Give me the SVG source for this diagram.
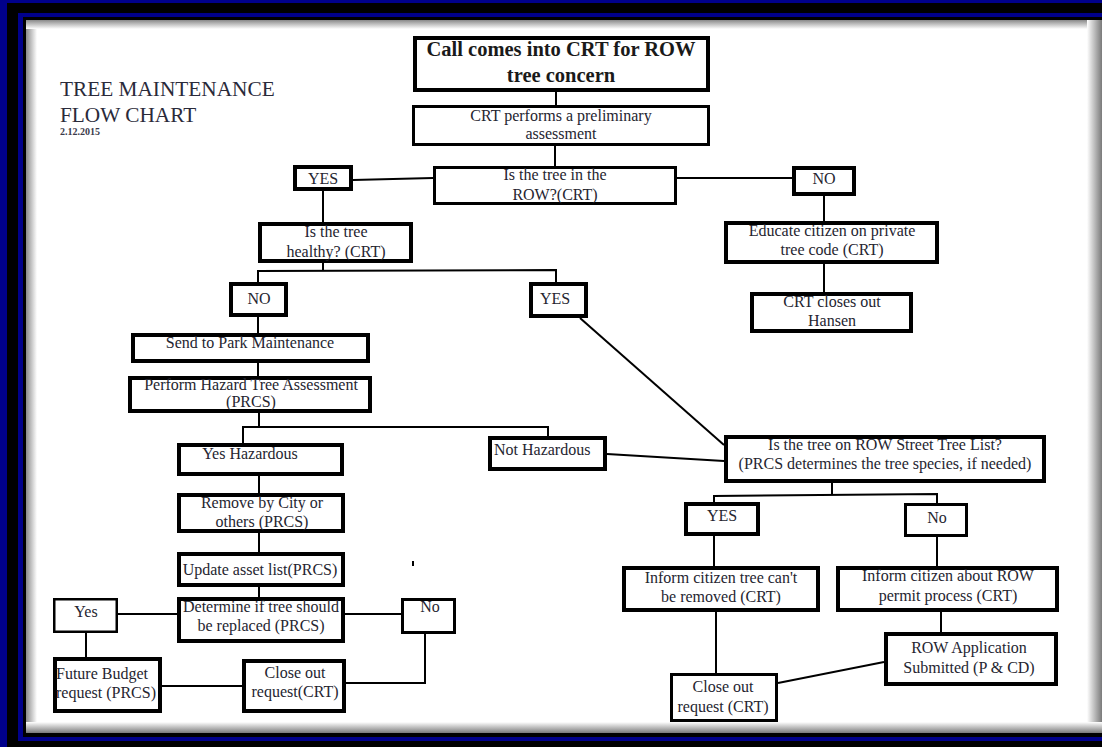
<svg xmlns="http://www.w3.org/2000/svg" width="1102" height="747" viewBox="0 0 1102 747">
<defs>
<linearGradient id="shL" x1="0" y1="0" x2="1" y2="0"><stop offset="0" stop-color="#8a8a8a"/><stop offset="1" stop-color="#fff"/></linearGradient>
<linearGradient id="shT" x1="0" y1="0" x2="0" y2="1"><stop offset="0" stop-color="#8a8a8a"/><stop offset="1" stop-color="#fff"/></linearGradient>
<linearGradient id="shR" x1="0" y1="0" x2="1" y2="0"><stop offset="0" stop-color="#fff"/><stop offset="1" stop-color="#7a7a7a"/></linearGradient>
<linearGradient id="shB" x1="0" y1="0" x2="0" y2="1"><stop offset="0" stop-color="#fff"/><stop offset="1" stop-color="#7a7a7a"/></linearGradient>
<style>
.b{fill:#fff;stroke:#000;stroke-width:4}
.m{fill:#fff;stroke:#000;stroke-width:3}
.s{fill:#fff;stroke:#000;stroke-width:2.5}
.t{font-family:"Liberation Serif","Times New Roman",serif;font-size:16px;fill:#252530;text-anchor:middle}
.tl{font-family:"Liberation Serif","Times New Roman",serif;font-size:16px;fill:#252530}
.tb{font-family:"Liberation Serif","Times New Roman",serif;font-size:20.5px;font-weight:bold;fill:#1a1a1a;text-anchor:middle}
.ttl{font-family:"Liberation Serif","Times New Roman",serif;font-size:21.3px;fill:#2a2a3a}
#connectors line,#connectors polyline{stroke:#000;stroke-width:2;fill:none}
</style>
</defs>
<g id="frame">
<rect x="0" y="0" width="1102" height="747" fill="#00008b"/>
<rect x="7" y="3" width="1095" height="744" fill="#000"/>
<rect x="18" y="13" width="1084" height="728" fill="#00008b"/>
<rect x="23" y="17" width="1079" height="720" fill="#000"/>
<rect x="26" y="20" width="1076" height="713" fill="#fff"/>
<rect x="26" y="20" width="11" height="713" fill="url(#shL)"/>
<rect x="26" y="20" width="1076" height="9" fill="url(#shT)"/>
<rect x="1087" y="20" width="15" height="713" fill="url(#shR)"/>
<rect x="26" y="722" width="1076" height="11" fill="url(#shB)"/>
</g>
<g id="title">
<text class="ttl" x="60" y="96">TREE MAINTENANCE</text>
<text class="ttl" x="60" y="122">FLOW CHART</text>
<text x="60" y="135" font-family="Liberation Serif, serif" font-size="10" font-weight="bold" fill="#3a3a4a">2.12.2015</text>
</g>
<g id="connectors">
<line x1="556" y1="92" x2="556" y2="105"/>
<line x1="555" y1="146" x2="555" y2="166"/>
<line x1="353" y1="180" x2="433" y2="178"/>
<line x1="677" y1="178" x2="792" y2="178"/>
<line x1="824" y1="196" x2="824" y2="221"/>
<line x1="824" y1="264" x2="824" y2="292"/>
<line x1="323" y1="191" x2="323" y2="222"/>
<line x1="323" y1="263" x2="323" y2="271"/>
<polyline points="258,282 258,271 556,270 556,282"/>
<line x1="258" y1="317" x2="258" y2="333"/>
<line x1="258" y1="363" x2="258" y2="376"/>
<line x1="259" y1="413" x2="259" y2="427"/>
<polyline points="243,443 243,427 548,427 548,436"/>
<line x1="259" y1="476" x2="259" y2="493"/>
<line x1="259" y1="533" x2="259" y2="552"/>
<line x1="259" y1="587" x2="259" y2="597"/>
<line x1="177" y1="614" x2="118" y2="614"/>
<line x1="345" y1="614" x2="401" y2="614"/>
<line x1="86" y1="633" x2="86" y2="657"/>
<line x1="162" y1="686" x2="242" y2="686"/>
<polyline points="346,683 425,683 425,634"/>
<line x1="580" y1="318" x2="724" y2="445"/>
<line x1="607" y1="454" x2="724" y2="461"/>
<line x1="832" y1="483" x2="832" y2="494"/>
<polyline points="714,502 714,496 937,494 937,503"/>
<line x1="714" y1="536" x2="714" y2="566"/>
<line x1="937" y1="537" x2="937" y2="566"/>
<line x1="941" y1="612" x2="941" y2="632"/>
<line x1="716" y1="612" x2="716" y2="673"/>
<line x1="884" y1="662" x2="778" y2="683"/>
<line x1="413" y1="561" x2="413" y2="566" stroke-width="1.5"/>
</g>
<g id="n-call"><rect class="b" x="415" y="38" width="293" height="52"/><text class="tb" x="561" y="56">Call comes into CRT for ROW</text><text class="tb" x="561" y="82">tree concern</text></g>
<g id="n-prelim"><rect class="m" x="413.5" y="106.5" width="295" height="38"/><text class="t" x="561" y="121">CRT performs a preliminary</text><text class="t" x="561" y="139">assessment</text></g>
<g id="n-inrow"><rect class="m" x="434.5" y="167.5" width="241" height="36"/><text class="t" x="555" y="180">Is the tree in the</text><text class="t" x="555" y="200">ROW?(CRT)</text></g>
<g id="n-yes1"><rect class="b" x="295" y="167" width="56" height="22"/><text class="t" x="323" y="184">YES</text></g>
<g id="n-no1"><rect class="b" x="794" y="168" width="60" height="26"/><text class="t" x="824" y="184">NO</text></g>
<g id="n-educate"><rect class="b" x="726" y="223" width="211" height="39"/><text class="t" x="832" y="236">Educate citizen on private</text><text class="t" x="832" y="255">tree code  (CRT)</text></g>
<g id="n-hansen"><rect class="b" x="752" y="294" width="159" height="37"/><text class="t" x="832" y="307">CRT closes out</text><text class="t" x="832" y="326">Hansen</text></g>
<g id="n-healthy"><rect class="b" x="260" y="224" width="151" height="37"/><text class="t" x="336" y="237">Is the tree</text><text class="t" x="336" y="257">healthy? (CRT)</text></g>
<g id="n-no2"><rect class="b" x="231" y="284" width="55" height="31"/><text class="t" x="259" y="304">NO</text></g>
<g id="n-yes2"><rect class="b" x="531" y="284" width="55" height="32"/><text class="t" x="555" y="304">YES</text></g>
<g id="n-send"><rect class="b" x="133" y="335" width="235" height="26"/><text class="t" x="250" y="348">Send to Park Maintenance</text></g>
<g id="n-perform"><rect class="b" x="130" y="378" width="240" height="33"/><text class="t" x="251" y="390">Perform Hazard Tree Assessment</text><text class="t" x="251" y="407">(PRCS)</text></g>
<g id="n-yeshaz"><rect class="b" x="179" y="445" width="163" height="29"/><text class="t" x="250" y="459">Yes Hazardous</text></g>
<g id="n-nothaz"><rect class="b" x="490" y="438" width="115" height="31"/><text class="tl" x="494" y="455">Not Hazardous</text></g>
<g id="n-remove"><rect class="b" x="179" y="495" width="164" height="36"/><text class="t" x="262" y="508">Remove by City or</text><text class="t" x="262" y="527">others (PRCS)</text></g>
<g id="n-update"><rect class="b" x="179" y="554" width="164" height="31"/><text class="t" x="260" y="575">Update asset list(PRCS)</text></g>
<g id="n-determine"><rect class="b" x="179" y="599" width="164" height="42"/><text class="t" x="261" y="612">Determine if tree should</text><text class="t" x="261" y="631">be replaced (PRCS)</text></g>
<g id="n-yes3"><rect class="s" x="54.25" y="599.25" width="62.5" height="32.5"/><text class="t" x="86" y="617">Yes</text></g>
<g id="n-no3"><rect class="m" x="402.5" y="599.5" width="52" height="33"/><text class="t" x="430" y="612">No</text></g>
<g id="n-future"><rect class="b" x="55" y="659" width="105" height="52"/><text class="tl" x="56" y="679">Future Budget</text><text class="tl" x="56" y="698">request (PRCS)</text></g>
<g id="n-closeL"><rect class="b" x="244" y="661" width="100" height="50"/><text class="t" x="295" y="678">Close out</text><text class="t" x="295" y="697">request(CRT)</text></g>
<g id="n-street"><rect class="b" x="726" y="437" width="318" height="44"/><text class="t" x="885" y="450">Is the tree on ROW Street Tree List?</text><text class="t" x="885" y="469">(PRCS determines the tree species, if needed)</text></g>
<g id="n-yes4"><rect class="b" x="686" y="504" width="72" height="30"/><text class="t" x="722" y="521">YES</text></g>
<g id="n-no4"><rect class="m" x="905.5" y="504.5" width="61" height="31"/><text class="t" x="937" y="523">No</text></g>
<g id="n-cant"><rect class="b" x="624" y="568" width="194" height="42"/><text class="t" x="721" y="583">Inform citizen tree can't</text><text class="t" x="721" y="602">be removed (CRT)</text></g>
<g id="n-about"><rect class="b" x="838" y="568" width="219" height="42"/><text class="t" x="948" y="581">Inform citizen about ROW</text><text class="t" x="948" y="601">permit process (CRT)</text></g>
<g id="n-rowapp"><rect class="b" x="886" y="634" width="170" height="50"/><text class="t" x="969" y="653">ROW Application</text><text class="t" x="969" y="673">Submitted (P &amp; CD)</text></g>
<g id="n-closeR"><rect class="m" x="671.5" y="674.5" width="105" height="46"/><text class="t" x="723" y="692">Close out</text><text class="t" x="723" y="712">request (CRT)</text></g>
</svg>
